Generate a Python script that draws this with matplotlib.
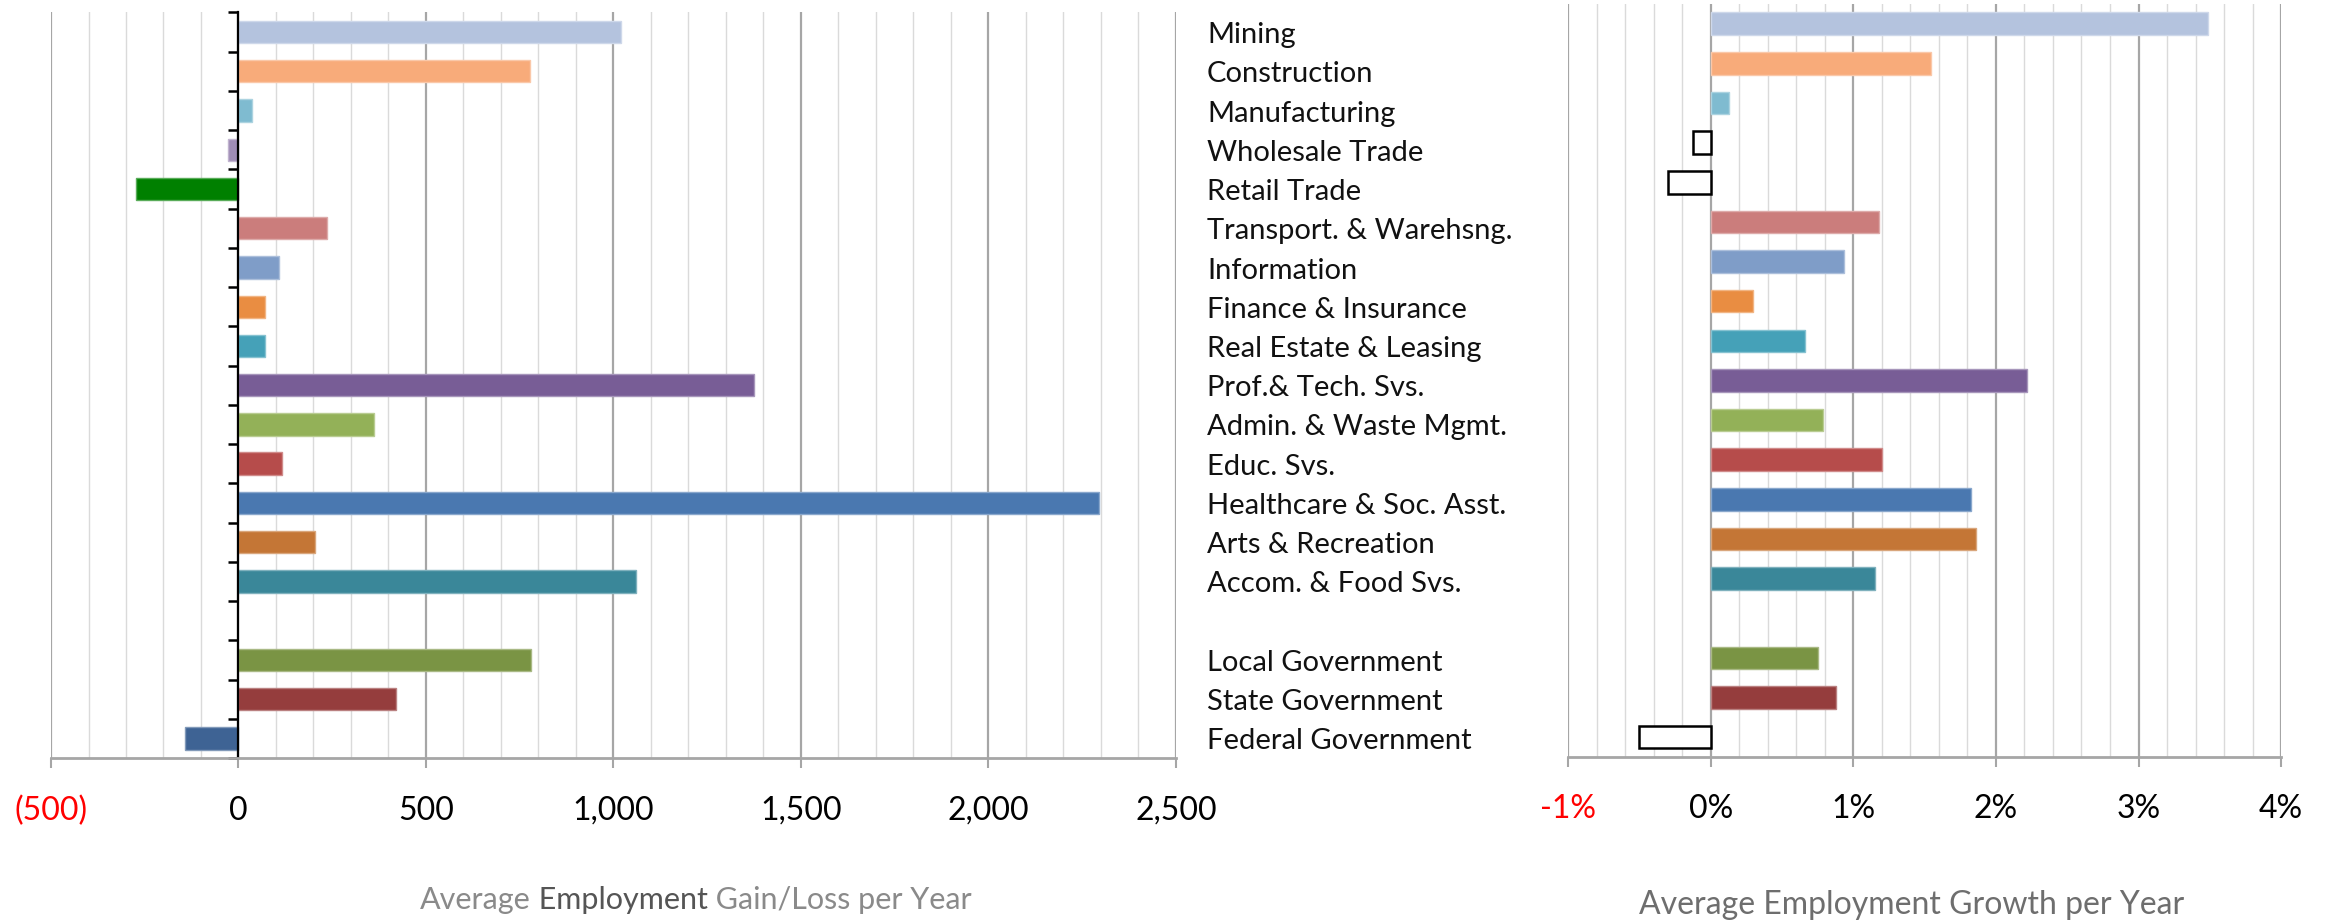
import matplotlib
matplotlib.use('Agg')
import matplotlib.pyplot as plt
import matplotlib.colors as mcolors
import matplotlib.transforms as mtransforms
from matplotlib.ticker import MultipleLocator
import numpy as np

plt.rcParams['font.family'] = ['Lato', 'DejaVu Sans']

sectors = ['Mining', 'Construction', 'Manufacturing', 'Wholesale Trade', 'Retail Trade',
           'Transport. & Warehsng.', 'Information', 'Finance & Insurance',
           'Real Estate & Leasing', 'Prof.& Tech. Svs.', 'Admin. & Waste Mgmt.',
           'Educ. Svs.', 'Healthcare & Soc. Asst.', 'Arts & Recreation',
           'Accom. & Food Svs.', '', 'Local Government', 'State Government',
           'Federal Government']
# average employment gain/loss per year (jobs); None = spacer row
gain_loss = [1020, 778, 35, -27, -274, 237, 108, 70, 70, 1375, 362, 116, 2295, 205, 1059,
             None, 781, 421, -143]
# average employment growth per year (%)
growth_pct = [3.49, 1.545, 0.126, -0.126, -0.30, 1.18, 0.937, 0.30, 0.66, 2.22, 0.786, 1.198,
              1.824, 1.859, 1.151, None, 0.751, 0.877, -0.504]
bar_colors = ['#B4C3DE', '#F8AB7A', '#7FBBD0', '#9F8CB5', '#008000', '#CB7D7C', '#7F9DC8',
              '#E98D42', '#45A1B8', '#785D96', '#93B158', '#B64C4B', '#4A78B0', '#C47636',
              '#3A8799', None, '#7A9444', '#953D3D', '#3E6394']
hollow_on_right = ['Wholesale Trade', 'Retail Trade', 'Federal Government']

left_ticks = [-500, 0, 500, 1000, 1500, 2000, 2500]
right_ticks = [-1, 0, 1, 2, 3, 4]

n = len(sectors)
ypos = np.arange(n)


def lighter(c, amt=0.35):
    r, g, b = mcolors.to_rgb(c)
    return (r + (1 - r) * amt, g + (1 - g) * amt, b + (1 - b) * amt)


fig = plt.figure(figsize=(23.31, 9.21), dpi=100)
fig.patch.set_facecolor('white')
ax1 = fig.add_axes([0.02188, 0.17698, 0.4826, 0.8096])
ax2 = fig.add_axes([0.6727, 0.1781, 0.3059, 0.8176])

for ax, ticks, minor in [(ax1, left_ticks, 100), (ax2, right_ticks, 0.2)]:
    ax.set_xlim(ticks[0], ticks[-1])
    ax.set_ylim(n - 0.5, -0.5)
    ax.xaxis.set_minor_locator(MultipleLocator(minor))
    ax.set_axisbelow(True)
    ax.grid(axis='x', which='major', color='#A6A6A6', linewidth=1.6)
    ax.grid(axis='x', which='minor', color='#DADADA', linewidth=1.0)
    for s in ['top', 'right']:
        ax.spines[s].set_visible(False)
    ax.spines['bottom'].set_color('#A6A6A6')
    ax.spines['bottom'].set_linewidth(2)
    ax.tick_params(axis='x', which='major', direction='out', length=7, width=1.5,
                   color='#A6A6A6', labelsize=23, pad=20)
    ax.tick_params(axis='x', which='minor', length=0)

# left chart: gain/loss
for i, (v, c) in enumerate(zip(gain_loss, bar_colors)):
    if v is None:
        continue
    ax1.barh(ypos[i], v, height=0.57, color=c, edgecolor=lighter(c), linewidth=1.0)

ax1.set_xticks(left_ticks, [f'({abs(t):,})' if t < 0 else f'{t:,}' for t in left_ticks])
ax1.spines['left'].set_position(('data', 0))
ax1.spines['left'].set_color('black')
ax1.spines['left'].set_linewidth(1.6)
ax1.set_yticks(np.arange(-0.5, n, 1))
ax1.set_yticklabels([])
ax1.tick_params(axis='y', direction='out', length=7, width=1.8, color='black')

# right chart: growth %
for i, (v, c, name) in enumerate(zip(growth_pct, bar_colors, sectors)):
    if v is None:
        continue
    if name in hollow_on_right:
        ax2.barh(ypos[i], v, height=0.57, facecolor='white', edgecolor='black', linewidth=1.8)
    else:
        ax2.barh(ypos[i], v, height=0.57, color=c, edgecolor=lighter(c), linewidth=1.0)

ax2.set_xticks(right_ticks, [f'{t}%' for t in right_ticks])
ax2.spines['left'].set_visible(False)
ax2.set_yticks([])

for ax in (ax1, ax2):
    for lab in ax.get_xticklabels():
        if lab.get_text().startswith('(') or lab.get_text().startswith('-'):
            lab.set_color('red')

# sector names between the two charts
trans = mtransforms.blended_transform_factory(fig.transFigure, ax1.transData)
trans = mtransforms.offset_copy(trans, fig=fig, y=-2.2, units='points')
for i, name in enumerate(sectors):
    fig.text(0.5178, ypos[i], name, transform=trans, va='center', ha='left',
             fontsize=21, color='#111111')

# axis titles
t1 = fig.text(0.1771, 0.0125, 'Average', color='#8A8A8A', fontsize=22, va='baseline')
t2 = ax1.annotate(' Employment', xy=(1, 0), xycoords=t1, va='bottom', ha='left',
                  color='#555555', fontsize=22, annotation_clip=False)
t3 = ax1.annotate(' Gain/Loss per Year', xy=(1, 0), xycoords=t2, va='bottom', ha='left',
                  color='#8A8A8A', fontsize=22, annotation_clip=False)

fig.text(0.8203, 0.0076, 'Average Employment Growth per Year', color='#6E6E6E',
         fontsize=23, va='baseline', ha='center')

# centre the three-part left title
fig.canvas.draw()
r = fig.canvas.get_renderer()
x0 = t1.get_window_extent(r).x0
x1 = t3.get_window_extent(r).x1
shift = 696 - (x0 + x1) / 2
t1.set_x(t1.get_position()[0] + shift / fig.bbox.width)

plt.savefig('out.png', dpi=100, facecolor='white')
print("DONE: out.png")
